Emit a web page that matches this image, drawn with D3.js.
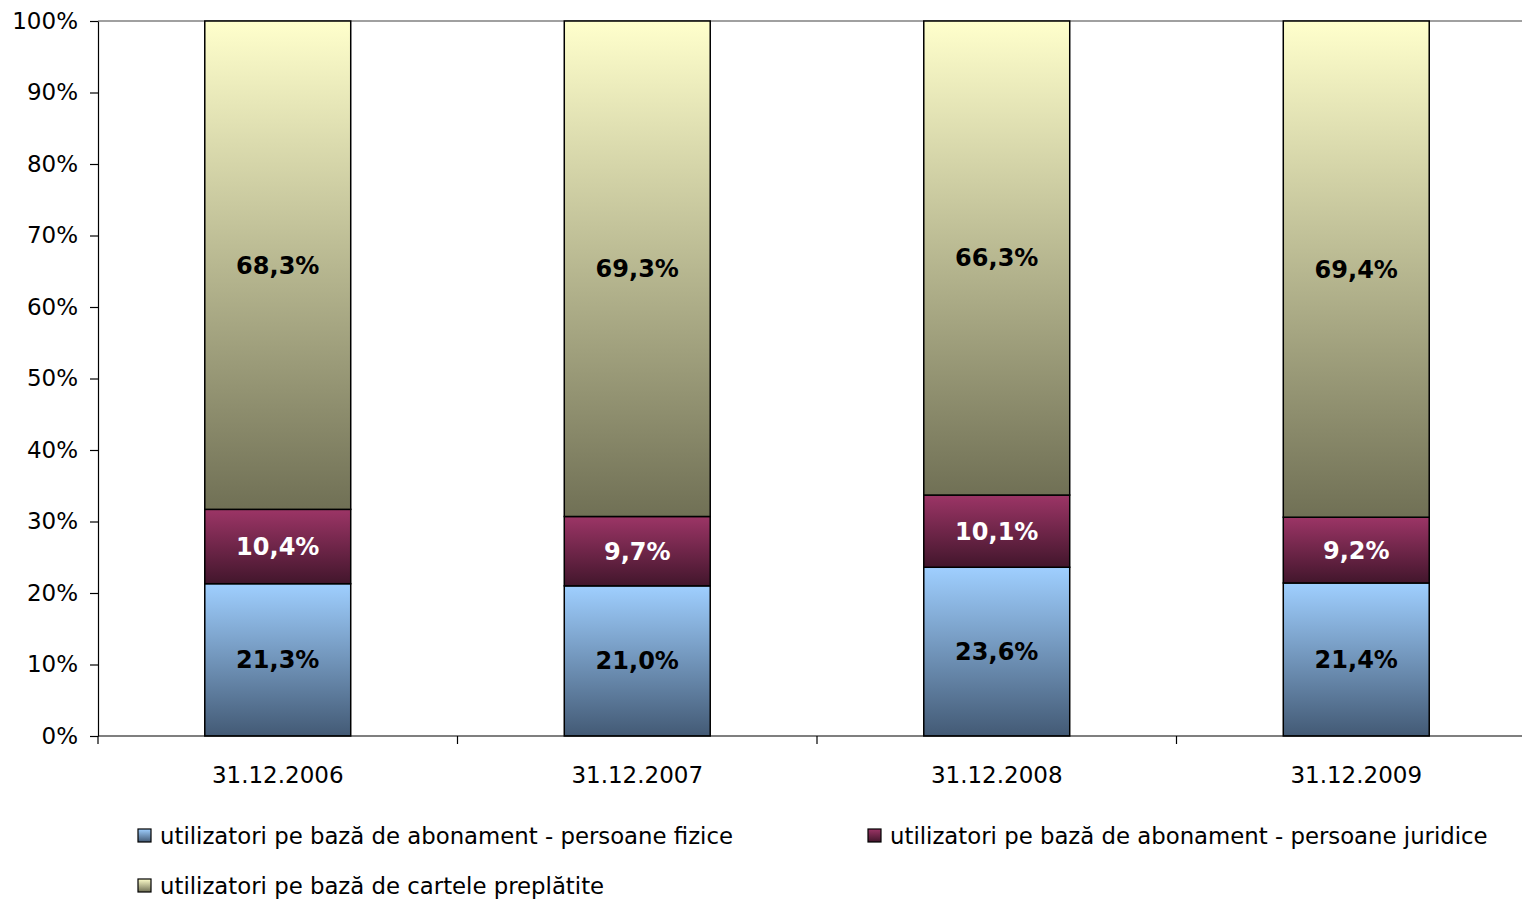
<!DOCTYPE html>
<html>
<head>
<meta charset="utf-8">
<script src="https://cdn.jsdelivr.net/npm/d3@7"></script>
<style>
  body { margin: 0; background: #fff; overflow: hidden; }
  svg { font-family: Tahoma, "DejaVu Sans", sans-serif; }
</style>
</head>
<body>
<svg id="chart" width="1522" height="901"></svg>
<script>
const categories = ["31.12.2006", "31.12.2007", "31.12.2008", "31.12.2009"];
const fizice = [21.3, 21.0, 23.6, 21.4];
const juridice = [10.4, 9.7, 10.1, 9.2];
const cartele = [68.3, 69.3, 66.3, 69.4];
const seriesNames = [
  "utilizatori pe bază de abonament - persoane fizice",
  "utilizatori pe bază de abonament - persoane juridice",
  "utilizatori pe bază de cartele preplătite"
];
const yTicks = [0, 10, 20, 30, 40, 50, 60, 70, 80, 90, 100];

const width = 1522, height = 901;
// plot area runs a bit past the right edge of the window
const margin = {top: 21, right: -14, bottom: 165, left: 98};

const svg = d3.select("#chart");

// gradients per series, light at top, dark at bottom
const grads = [
  {id: "g0", top: "#9fcfff", bottom: "#435a75", text: "#000"},
  {id: "g1", top: "#9c3566", bottom: "#42162c", text: "#fff"},
  {id: "g2", top: "#ffffcc", bottom: "#707055", text: "#000"}
];
const defs = svg.append("defs");
grads.forEach(g => {
  const lg = defs.append("linearGradient").attr("id", g.id)
    .attr("x1", 0).attr("y1", 0).attr("x2", 0).attr("y2", 1);
  lg.append("stop").attr("offset", "0%").attr("stop-color", g.top);
  lg.append("stop").attr("offset", "100%").attr("stop-color", g.bottom);
});

const table = categories.map((c, i) => ({cat: c, s0: fizice[i], s1: juridice[i], s2: cartele[i]}));
const stack = d3.stack().keys(["s0", "s1", "s2"])(table);

const x = d3.scaleBand()
  .domain(categories)
  .range([margin.left, width - margin.right])
  .paddingInner(0.594)
  .paddingOuter(0.297);

const y = d3.scaleLinear()
  .domain([0, 100])
  .range([height - margin.bottom, margin.top]);

// top border of plot area
svg.append("line")
  .attr("x1", margin.left).attr("x2", width - margin.right)
  .attr("y1", y(100)).attr("y2", y(100))
  .attr("stroke", "#808080").attr("stroke-width", 1.5);

// bars
const layers = svg.append("g").selectAll("g")
  .data(stack).join("g")
  .attr("fill", (d, i) => `url(#${grads[i].id})`);

layers.selectAll("rect")
  .data(d => d)
  .join("rect")
  .attr("x", d => x(d.data.cat))
  .attr("width", x.bandwidth())
  .attr("y", d => y(d[1]))
  .attr("height", d => y(d[0]) - y(d[1]))
  .attr("stroke", "#000")
  .attr("stroke-width", 1.5);

// data labels
stack.forEach((layer, i) => {
  svg.append("g").selectAll("text")
    .data(layer).join("text")
    .attr("x", d => x(d.data.cat) + x.bandwidth() / 2)
    .attr("y", d => y((d[0] + d[1]) / 2))
    .attr("dy", "0.35em")
    .attr("text-anchor", "middle")
    .attr("font-size", 24)
    .attr("font-weight", "bold")
    .attr("fill", grads[i].text)
    .text(d => (d[1] - d[0]).toFixed(1).replace(".", ",") + "%");
});

// y axis
const yAxis = svg.append("g")
  .attr("transform", `translate(${margin.left},0)`)
  .call(d3.axisLeft(y).tickValues(yTicks).tickFormat(d => d + "%").tickSize(8).tickSizeOuter(0));
yAxis.attr("font-family", null);
yAxis.selectAll("text").attr("font-size", 23).attr("fill", "#000").attr("x", -20);
yAxis.selectAll("line, path").attr("stroke", "#000").attr("stroke-width", 1.2);

// x axis: ticks at category boundaries
const xAxisG = svg.append("g")
  .attr("transform", `translate(0,${y(0)})`);
xAxisG.append("line")
  .attr("x1", margin.left).attr("x2", width - margin.right)
  .attr("stroke", "#000").attr("stroke-width", 1.2);
const bounds = d3.range(categories.length + 1).map(i => margin.left + i * x.step());
xAxisG.selectAll(".tk").data(bounds).join("line")
  .attr("x1", d => d).attr("x2", d => d)
  .attr("y1", 0).attr("y2", 8)
  .attr("stroke", "#000").attr("stroke-width", 1.2);
xAxisG.selectAll(".lbl").data(categories).join("text")
  .attr("x", d => x(d) + x.bandwidth() / 2)
  .attr("y", 47)
  .attr("text-anchor", "middle")
  .attr("font-size", 23)
  .text(d => d);

// legend
const legendPos = [[138, 836], [868, 836], [138, 886]];
const legend = svg.append("g").selectAll("g")
  .data(seriesNames).join("g")
  .attr("transform", (d, i) => `translate(${legendPos[i][0]},${legendPos[i][1]})`);
legend.append("rect")
  .attr("x", 0).attr("y", -7).attr("width", 13).attr("height", 13)
  .attr("fill", (d, i) => `url(#${grads[i].id})`)
  .attr("stroke", "#000").attr("stroke-width", 1.2);
legend.append("text")
  .attr("x", 22).attr("dy", "0.35em")
  .attr("font-size", 22.8)
  .text(d => d);
</script>
</body>
</html>
